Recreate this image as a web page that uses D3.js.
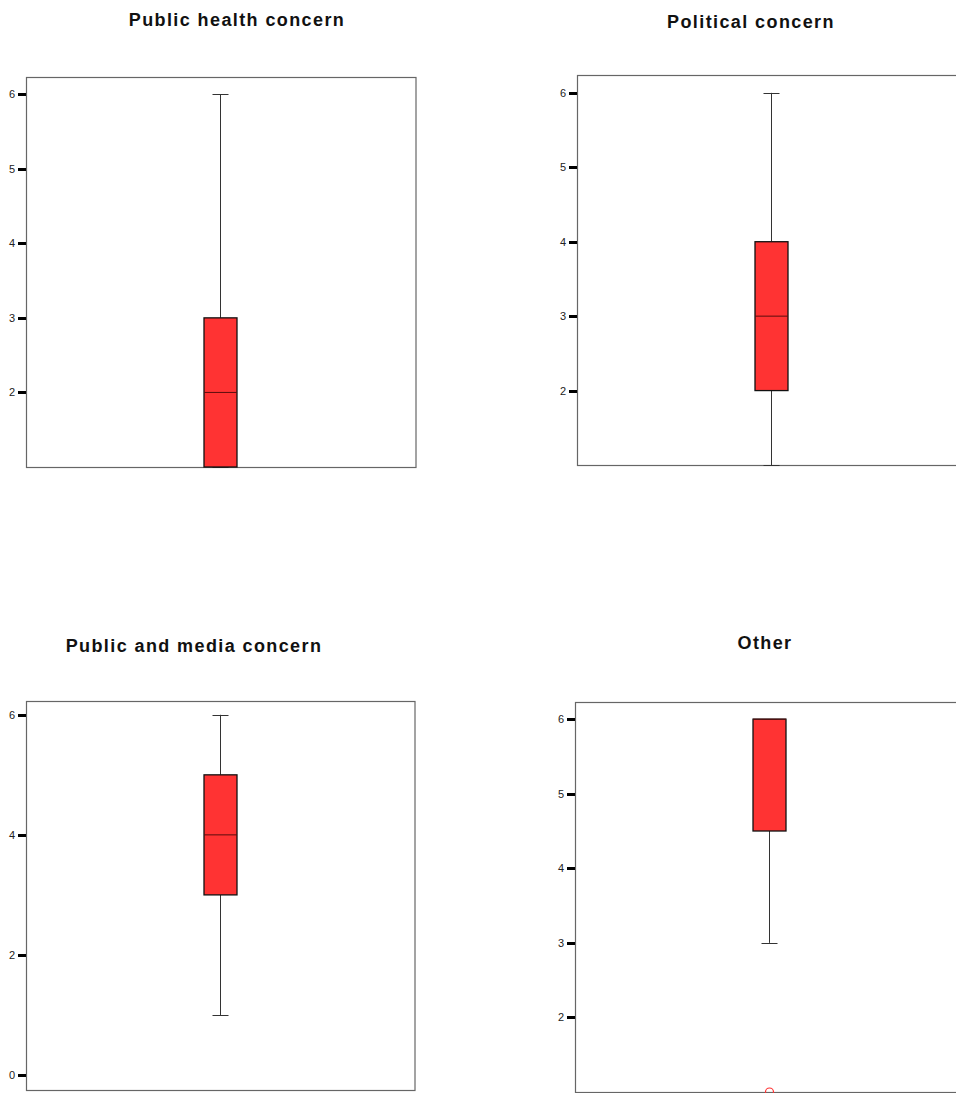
<!DOCTYPE html>
<html>
<head>
<meta charset="utf-8">
<script src="https://cdn.jsdelivr.net/npm/d3@7"></script>
<style>
  html, body { margin: 0; padding: 0; background: #fff; }
  svg { display: block; }
  .title { font-family: "Liberation Sans", Arial, sans-serif; font-weight: bold; font-size: 18px; letter-spacing: 1.4px; fill: #111; }
  .axis text { font-family: "Liberation Sans", Arial, sans-serif; font-size: 11px; fill: #222; }
</style>
</head>
<body>
<script>
// Box-plot summaries for each concern category
const categories = ["Public health concern", "Political concern", "Public and media concern", "Other"];
const whiskerLow  = [1, 1, 1, 3];
const quartile1   = [1, 2, 3, 4.5];
const medians     = [2, 3, 4, 6];
const quartile3   = [3, 4, 5, 6];
const whiskerHigh = [6, 6, 6, 6];
const outliers    = [[], [], [], [1]];

// Axis extents and tick labels per panel
const axisMin = [1, 1, -0.25, 1];
const axisMax = [6.23, 6.24, 6.23, 6.23];
const tickValues = [[2, 3, 4, 5, 6], [2, 3, 4, 5, 6], [0, 2, 4, 6], [2, 3, 4, 5, 6]];

// Panel frames (plot area) and title placement
const layout = [
  { x0: 26.5, x1: 416, y0: 77,  y1: 467,  tx: 237, ty: 26 },
  { x0: 577.5, x1: 967, y0: 75,  y1: 465,  tx: 751, ty: 28 },
  { x0: 26.5, x1: 415, y0: 701, y1: 1090, tx: 194, ty: 652 },
  { x0: 575.5, x1: 965, y0: 702, y1: 1092, tx: 765, ty: 649 }
];

const W = 956, H = 1093;
const svg = d3.select("body").append("svg").attr("width", W).attr("height", H);

const boxW = 33, capW = 16;

categories.forEach((name, i) => {
  const L = layout[i];
  const y = d3.scaleLinear().domain([axisMin[i], axisMax[i]]).range([L.y1, L.y0]);
  const x = d3.scaleBand().domain([name]).range([L.x0, L.x1]);
  const cx = Math.round(x(name) + x.bandwidth() / 2) - 0.5;
  const g = svg.append("g");

  // title
  g.append("text").attr("class", "title")
    .attr("x", L.tx).attr("y", L.ty).attr("text-anchor", "middle").text(name);

  // frame
  g.append("rect")
    .attr("x", L.x0).attr("y", L.y0 + 0.5)
    .attr("width", L.x1 - L.x0).attr("height", L.y1 - L.y0)
    .attr("fill", "none").attr("stroke", "#666").attr("stroke-width", 1.2);

  // y axis
  const ax = g.append("g").attr("class", "axis")
    .attr("transform", `translate(${L.x0 - 0.5},0)`)
    .call(d3.axisLeft(y).tickValues(tickValues[i]).tickSize(8).tickPadding(3).tickFormat(d3.format("d")));
  ax.select(".domain").remove();
  ax.selectAll(".tick line").attr("stroke", "#000").attr("stroke-width", 3)
    .attr("shape-rendering", "crispEdges");

  const clipId = "clip" + i;
  svg.append("clipPath").attr("id", clipId).append("rect")
    .attr("x", L.x0 - 10).attr("y", L.y0 - 10).attr("width", L.x1 - L.x0 + 20).attr("height", L.y1 - L.y0 + 20);
  const p = g.append("g").attr("clip-path", `url(#${clipId})`);

  // whiskers
  const whiskers = [[whiskerLow[i], quartile1[i]], [quartile3[i], whiskerHigh[i]]];
  whiskers.forEach(([a, b]) => {
    if (a === b) return;
    p.append("line").attr("x1", cx).attr("x2", cx)
      .attr("y1", y(a)).attr("y2", y(b)).attr("stroke", "#333").attr("stroke-width", 1);
  });
  [whiskerLow[i], whiskerHigh[i]].forEach(v => {
    p.append("line").attr("x1", cx - capW / 2).attr("x2", cx + capW / 2)
      .attr("y1", Math.round(y(v)) + 0.5).attr("y2", Math.round(y(v)) + 0.5)
      .attr("stroke", "#333").attr("stroke-width", 1);
  });

  // box
  p.append("rect")
    .attr("x", cx - boxW / 2).attr("width", boxW)
    .attr("y", y(quartile3[i])).attr("height", y(quartile1[i]) - y(quartile3[i]))
    .attr("fill", "#ff3333").attr("stroke", "#111").attr("stroke-width", 1.3);

  // median
  p.append("line").attr("x1", cx - boxW / 2).attr("x2", cx + boxW / 2)
    .attr("y1", y(medians[i])).attr("y2", y(medians[i]))
    .attr("stroke", "#5a0d0d").attr("stroke-width", 1);

  // outliers
  p.selectAll("circle.out").data(outliers[i]).join("circle")
    .attr("class", "out")
    .attr("cx", cx).attr("cy", d => y(d)).attr("r", 4)
    .attr("fill", "none").attr("stroke", "#ff3333").attr("stroke-width", 1.2);
});
</script>
</body>
</html>
